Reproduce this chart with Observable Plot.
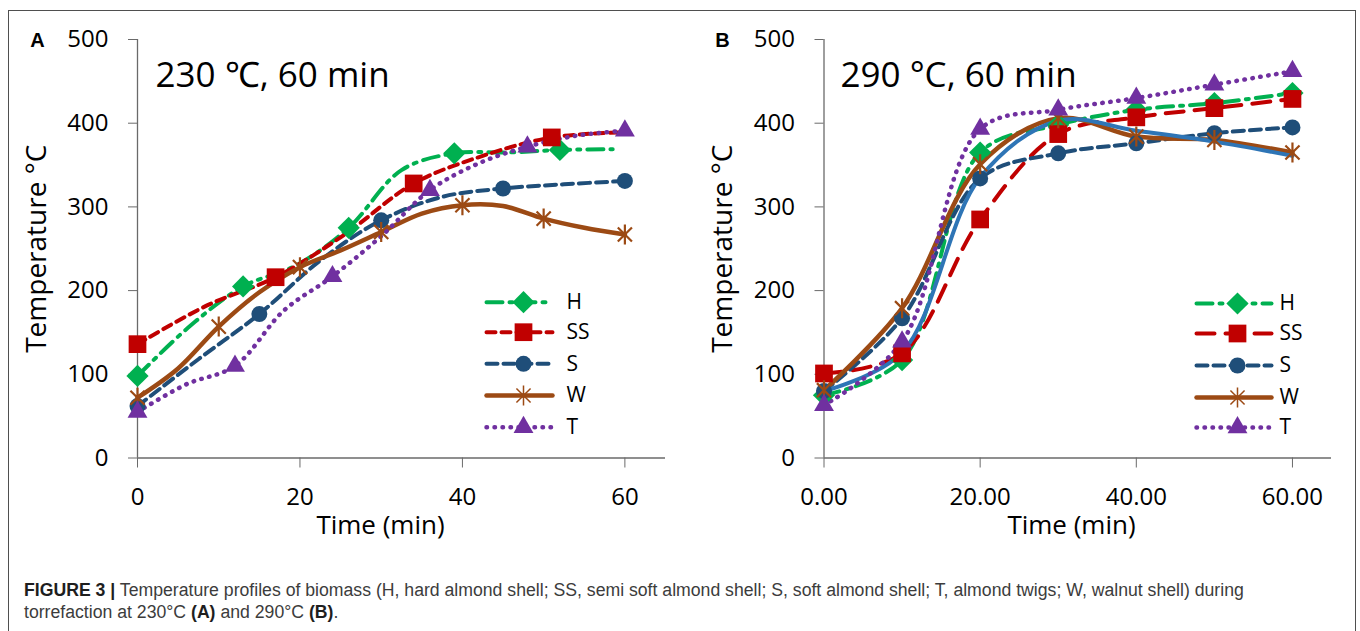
<!DOCTYPE html>
<html>
<head>
<meta charset="utf-8">
<script src="https://cdn.jsdelivr.net/npm/d3@7"></script>
<script src="https://cdn.jsdelivr.net/npm/@observablehq/plot@0.6"></script>
<style>
  html, body { margin: 0; padding: 0; background: #fff; }
  body { width: 1360px; height: 631px; overflow: hidden; position: relative; font-family: "Open Sans", sans-serif; }
  #frame { position: absolute; left: 8px; top: 10px; width: 1348px; height: 700px; border: 1.5px solid #4f4f4f; box-sizing: border-box; }
  #pa { position: absolute; left: 0; top: 0; }
  #pb { position: absolute; left: 680px; top: 0; }
  #cap { position: absolute; left: 0; top: 570px; }
</style>
</head>
<body>
<div id="frame"></div>
<div id="pa"></div>
<div id="pb"></div>
<svg id="cap" width="1360" height="61">
  <g id="capg" font-family="'Liberation Sans', Arial, sans-serif" font-size="19" fill="#3c3c3c">
    <text id="cap1" x="0" y="26"><tspan font-weight="bold" fill="#1e1e1e">FIGURE 3 |</tspan> Temperature profiles of biomass (H, hard almond shell; SS, semi soft almond shell; S, soft almond shell; T, almond twigs; W, walnut shell) during</text>
    <text id="cap2" x="0" y="48">torrefaction at 230°C <tspan font-weight="bold" fill="#1e1e1e">(A)</tspan> and 290°C <tspan font-weight="bold" fill="#1e1e1e">(B)</tspan>.</text>
  </g>
</svg>
<script>
// ---------------- DATA ----------------
const seriesNames = ["H", "SS", "S", "W", "T"];
const xTicks = [0, 20, 40, 60];
const yTicks = [0, 100, 200, 300, 400, 500];

// Panel A: 230 °C, 60 min (markers shown on every other point)
const A_H_time  = [0, 6.5, 13, 19.5, 26, 32.5, 39, 45.5, 52, 58.5];
const A_H_temp  = [98, 158, 205, 230, 275, 344, 364, 365, 368, 369];
const A_SS_time = [0, 8.5, 17, 25.5, 34, 42.5, 51, 59.5];
const A_SS_temp = [136, 182, 216, 267, 328, 361, 383, 389];
const A_S_time  = [0, 7.5, 15, 22.5, 30, 37.5, 45, 52.5, 60];
const A_S_temp  = [62, 118, 172, 236, 284, 312, 322, 327, 331];
const A_W_time  = [0, 5, 10, 15, 20, 25, 30, 35, 40, 45, 50, 55, 60];
const A_W_temp  = [72, 107, 157, 198, 228, 248, 270, 292, 302, 301, 286, 275, 267];
const A_T_time  = [0, 6, 12, 18, 24, 30, 36, 42, 48, 54, 60];
const A_T_temp  = [55, 88, 110, 176, 217, 265, 320, 352, 372, 385, 391];

// Panel B: 290 °C, 60 min
const B_time    = [0, 10, 20, 30, 40, 50, 60];
const B_H_temp  = [75, 117, 365, 398, 416, 424, 436];
const B_SS_temp = [101, 125, 285, 387, 407, 418, 429];
const B_S_temp  = [80, 167, 334, 364, 376, 388, 395];
const B_W_temp  = [81, 179, 351, 406, 384, 380, 365];
const B_T_temp  = [63, 139, 393, 416, 430, 446, 462];
const B_extra_temp = [80, 126, 335, 403, 391, 378, 361]; // unlabelled solid blue curve

// ---------------- STYLE ----------------
const star = {
  draw(ctx, size) {
    const r = Math.sqrt(size / Math.PI);
    const d = r * Math.SQRT1_2;
    ctx.moveTo(0, -r); ctx.lineTo(0, r);
    ctx.moveTo(-d, -d); ctx.lineTo(d, d);
    ctx.moveTo(-d, d); ctx.lineTo(d, -d);
  }
};
const look = {
  H:  {color: "#00b050", width: 4,   dashA: "16,7,3,7", dashB: "16,7,3,7", symbol: "diamond2", r: 10},
  SS: {color: "#c00000", width: 4,   dashA: "9,6",      dashB: "18,11",    symbol: "square",   r: 10},
  S:  {color: "#1f4e79", width: 4,   dashA: "11,6",     dashB: "11,6",     symbol: "circle",   r: 8},
  W:  {color: "#9c4a14", width: 4.5, dashA: null,       dashB: null,       symbol: star,       r: 10},
  T:  {color: "#7030a0", width: 4.5, dashA: "0.5,7.5",  dashB: "0.5,7.5",  symbol: "triangle2", r: 9.5}
};
const axisColor = "#6a6a6a";
const SVG_W = 680, SVG_H = 540, TOP = 39, BOTTOM = 457.5, XMAX = 65, YMAX = 500;

function pts(ts, vs) { return ts.map((t, i) => ({t, v: vs[i]})); }

function buildPanel(cfg) {
  const x0 = cfg.ml, x1 = SVG_W - cfg.mr;
  const toX = px => (px - x0) / (x1 - x0) * XMAX;
  const toY = py => (BOTTOM - py) / (BOTTOM - TOP) * YMAX;
  const marks = [];
  // axis lines
  marks.push(Plot.ruleX([0], {stroke: axisColor, strokeWidth: 1.3}));
  marks.push(Plot.ruleY([0], {stroke: axisColor, strokeWidth: 1.3}));
  marks.push(Plot.axisY(yTicks, {tickSize: 9, tickPadding: 20, stroke: axisColor, fill: "#000", label: null}));
  marks.push(Plot.axisX(xTicks, {tickSize: 10, tickPadding: 20, stroke: axisColor, fill: "#000", label: null, tickFormat: cfg.fmt}));
  // axis titles
  marks.push(Plot.text(["Temperature °C"], {frameAnchor: "left", dx: cfg.yLabelDx, rotate: -90, fontSize: 28, lineAnchor: "middle", textAnchor: "middle", fill: "#000"}));
  marks.push(Plot.text(["Time (min)"], {frameAnchor: "bottom-left", dx: cfg.xLabelDx, dy: 67.5, fontSize: 26, lineAnchor: "middle", textAnchor: "middle", fill: "#000"}));
  // title and panel letter
  marks.push(Plot.text([cfg.title], {frameAnchor: "top-left", dx: cfg.titleDx, dy: 36, fontSize: 35, lineAnchor: "middle", textAnchor: "start", fill: "#000"}));
  marks.push(Plot.text([cfg.letter], {frameAnchor: "top-left", dx: cfg.letterDx, dy: 1, fontSize: 20, fontWeight: "bold", fontFamily: "'Liberation Sans', Arial, sans-serif", lineAnchor: "middle", textAnchor: "middle", fill: "#000"}));
  // data lines
  for (const s of cfg.series) {
    const L = look[s.name] || s.look;
    marks.push(Plot.line(s.data, {x: "t", y: "v", curve: "catmull-rom", stroke: L.color, strokeWidth: L.width,
      strokeDasharray: s.dash, strokeLinecap: "round", strokeLinejoin: "round"}));
  }
  // markers
  for (const s of cfg.series) {
    if (!s.markEvery) continue;
    const L = look[s.name];
    const md = s.data.filter((d, i) => i % s.markEvery === 0);
    if (L.symbol === star) {
      marks.push(Plot.dot(md, {x: "t", y: "v", symbol: star, r: L.r, fill: "none", stroke: L.color, strokeWidth: 2.2}));
    } else {
      marks.push(Plot.dot(md, {x: "t", y: "v", symbol: L.symbol, r: L.r, fill: L.color, stroke: "none"}));
    }
  }
  // legend
  seriesNames.forEach((name, i) => {
    const L = look[name];
    const y = toY(cfg.leg.rows[i]);
    const dash = cfg.leg.dash(name);
    marks.push(Plot.line([[toX(cfg.leg.x1), y], [toX(cfg.leg.x2), y]], {stroke: L.color, strokeWidth: L.width, strokeDasharray: dash, strokeLinecap: "round"}));
    if (L.symbol === star) {
      marks.push(Plot.dot([[toX(cfg.leg.xm), y]], {symbol: star, r: L.r, fill: "none", stroke: L.color, strokeWidth: 1.5}));
    } else {
      marks.push(Plot.dot([[toX(cfg.leg.xm), y]], {symbol: L.symbol, r: L.r, fill: L.color, stroke: "none"}));
    }
    marks.push(Plot.text([name], {x: () => toX(cfg.leg.xt), y: () => y, fontSize: 21, textAnchor: "start", lineAnchor: "middle", fill: "#000"}));
  });
  return Plot.plot({
    width: SVG_W, height: SVG_H,
    marginLeft: cfg.ml, marginRight: cfg.mr, marginTop: TOP, marginBottom: SVG_H - BOTTOM,
    x: {domain: [0, XMAX]},
    y: {domain: [0, YMAX]},
    style: {fontFamily: "'Open Sans', sans-serif", fontSize: "24px", background: "transparent", overflow: "visible", color: "#000"},
    marks
  });
}

const panelA = buildPanel({
  ml: 137, mr: 15, fmt: d => String(d),
  title: "230 ℃, 60 min", titleDx: 18, letter: "A", letterDx: -100,
  yLabelDx: -100, xLabelDx: 243,
  series: [
    {name: "H",  data: pts(A_H_time, A_H_temp),   dash: look.H.dashA,  markEvery: 2},
    {name: "SS", data: pts(A_SS_time, A_SS_temp), dash: look.SS.dashA, markEvery: 2},
    {name: "S",  data: pts(A_S_time, A_S_temp),   dash: look.S.dashA,  markEvery: 2},
    {name: "W",  data: pts(A_W_time, A_W_temp),   dash: look.W.dashA,  markEvery: 2},
    {name: "T",  data: pts(A_T_time, A_T_temp),   dash: look.T.dashA,  markEvery: 2}
  ],
  leg: {x1: 486, x2: 552, xm: 523, xt: 566, rows: [301.7, 331.7, 363.3, 395, 426.7], dash: n => look[n].dashA}
});

const panelB = buildPanel({
  ml: 143.5, mr: 29, fmt: d3.format(".2f"),
  title: "290 °C, 60 min", titleDx: 16.5, letter: "B", letterDx: -101.5,
  yLabelDx: -101, xLabelDx: 247.5,
  series: [
    {name: "H",  data: pts(B_time, B_H_temp),  dash: look.H.dashB,  markEvery: 1},
    {name: "SS", data: pts(B_time, B_SS_temp), dash: look.SS.dashB, markEvery: 1},
    {name: "S",  data: pts(B_time, B_S_temp),  dash: look.S.dashB,  markEvery: 1},
    {name: "W",  data: pts(B_time, B_W_temp),  dash: look.W.dashB,  markEvery: 1},
    {name: "extra", data: pts(B_time, B_extra_temp), dash: null, markEvery: 0, look: {color: "#2e75b6", width: 4}},
    {name: "T",  data: pts(B_time, B_T_temp),  dash: look.T.dashB,  markEvery: 1}
  ],
  leg: {x1: 1196 - 680, x2: 1271 - 680, xm: 1237 - 680, xt: 1279 - 680, rows: [303, 333, 365, 397, 427], dash: n => look[n].dashB}
});

document.getElementById("pa").appendChild(panelA);
document.getElementById("pb").appendChild(panelB);

// caption: fit line 1 to the reference width, same horizontal scale for line 2
const c1 = document.getElementById("cap1");
const w1 = c1.getComputedTextLength();
const sx = 1221 / w1;
document.getElementById("capg").setAttribute("transform", `translate(24,0) scale(${sx},1)`);
</script>
</body>
</html>
